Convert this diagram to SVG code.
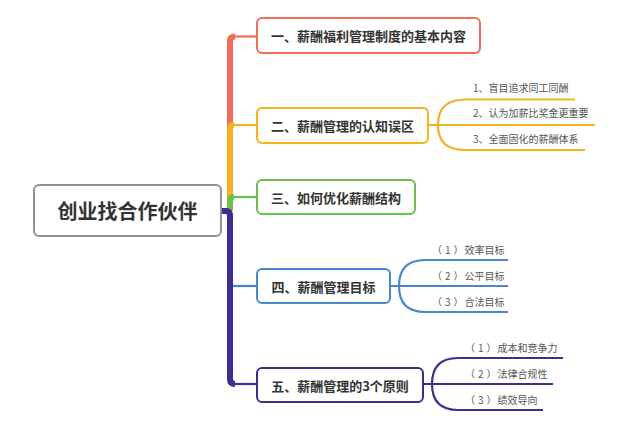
<svg xmlns="http://www.w3.org/2000/svg" width="640" height="436" viewBox="0 0 640 436">
<style>
.box{fill:#fff;stroke-width:2}
.t{font-family:"Noto Sans CJK SC","Noto Sans",sans-serif;fill:#333;font-weight:bold;text-anchor:middle;dominant-baseline:central}
.s{font-family:"Noto Sans CJK SC","Noto Sans",sans-serif;fill:#555;font-size:10px}
.trunk{fill:none;stroke-width:6;stroke-linecap:butt}
.ln{fill:none;stroke-width:2.2}
</style>
<rect width="640" height="436" fill="#fff"/>
<g id="connectors">
  <path class="trunk" d="M230 211 V41 Q230 36.5 235 36.5" stroke="#f26b5b"/>
  <path class="ln" d="M234 36.5 H257" stroke="#f26b5b" stroke-width="2.6"/>
  <path class="trunk" d="M230 211 V129 Q230 125 234 125" stroke="#f5b120"/>
  <path class="ln" d="M233 125 H257" stroke="#f5b120"/>
  <path class="trunk" d="M221 211 H226 Q230 211 230 207 V201 Q230 197 234 197" stroke="#6cbf4f"/>
  <path class="ln" d="M233 197 H257" stroke="#6cbf4f"/>
  <path class="ln" d="M230 286 H257" stroke="#4a86cf"/>
  <path class="trunk" d="M221 211 H226 Q230 211 230 216 V379 Q230 384 235 384" stroke="#3d2f8f" stroke-width="7"/>
  <path class="ln" d="M234 384 H257" stroke="#3d2f8f" stroke-width="2.4"/>
  <g stroke="#f5b120" class="ln">
    <path d="M428 125 H595"/>
    <path d="M438 125 C438 108 447 99.5 465 99.5 H575"/>
    <path d="M438 125 C438 142 447 150 465 150 H585"/>
  </g>
  <g stroke="#4a86cf" class="ln">
    <path d="M390 286 H508"/>
    <path d="M399 286 C399 269 407 260 425 260 H508"/>
    <path d="M399 286 C399 303 407 312 425 312 H508"/>
  </g>
  <g stroke="#3d2f8f" class="ln">
    <path d="M423 384 H553"/>
    <path d="M432 384 C432 367 440 358 458 358 H563"/>
    <path d="M432 384 C432 401 440 410 458 410 H543"/>
  </g>
</g>
<g id="root">
  <rect class="box" x="34" y="185" width="187" height="51" rx="5" stroke="#8c939c"/>
  <text class="t" x="127.5" y="210.5" font-size="20">创业找合作伙伴</text>
</g>
<g id="n1">
  <rect class="box" x="257" y="18" width="223" height="35" rx="5" stroke="#f26b5b"/>
  <text class="t" x="368.5" y="35.5" font-size="13">一、薪酬福利管理制度的基本内容</text>
</g>
<g id="n2">
  <rect class="box" x="257" y="108" width="171" height="35" rx="5" stroke="#f5b120"/>
  <text class="t" x="342.5" y="125.5" font-size="13">二、薪酬管理的认知误区</text>
</g>
<g id="n2a"><text class="s" x="473" y="92">1、盲目追求同工同酬</text></g>
<g id="n2b"><text class="s" x="473" y="117">2、认为加薪比奖金更重要</text></g>
<g id="n2c"><text class="s" x="473" y="143">3、全面固化的薪酬体系</text></g>
<g id="n3">
  <rect class="box" x="257" y="180" width="158" height="34" rx="5" stroke="#6cbf4f"/>
  <text class="t" x="336" y="197" font-size="13">三、如何优化薪酬结构</text>
</g>
<g id="n4">
  <rect class="box" x="257" y="269" width="133" height="34" rx="5" stroke="#4a86cf"/>
  <text class="t" x="323.5" y="286" font-size="13">四、薪酬管理目标</text>
</g>
<g id="n4a"><text class="s" x="432" y="254">（<tspan dx="3">1</tspan><tspan dx="3">）</tspan><tspan dx="1">效率目标</tspan></text></g>
<g id="n4b"><text class="s" x="432" y="280">（<tspan dx="3">2</tspan><tspan dx="3">）</tspan><tspan dx="1">公平目标</tspan></text></g>
<g id="n4c"><text class="s" x="432" y="306">（<tspan dx="3">3</tspan><tspan dx="3">）</tspan><tspan dx="1">合法目标</tspan></text></g>
<g id="n5">
  <rect class="box" x="257" y="368" width="166" height="34" rx="5" stroke="#3d2f8f"/>
  <text class="t" x="340" y="385" font-size="13">五、薪酬管理的3个原则</text>
</g>
<g id="n5a"><text class="s" x="465" y="352">（<tspan dx="3">1</tspan><tspan dx="3">）</tspan><tspan dx="1">成本和竞争力</tspan></text></g>
<g id="n5b"><text class="s" x="465" y="378">（<tspan dx="3">2</tspan><tspan dx="3">）</tspan><tspan dx="1">法律合规性</tspan></text></g>
<g id="n5c"><text class="s" x="465" y="404">（<tspan dx="3">3</tspan><tspan dx="3">）</tspan><tspan dx="1">绩效导向</tspan></text></g>
</svg>
